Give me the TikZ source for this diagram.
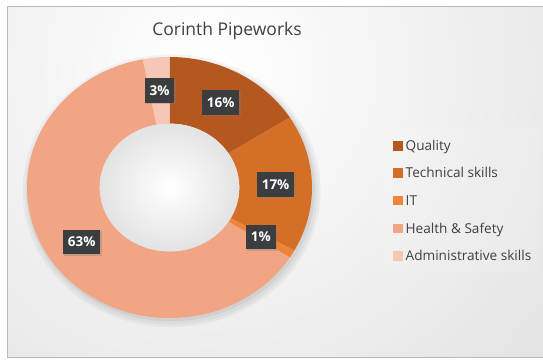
\documentclass[tikz,border=0pt]{standalone}
\usepackage{fontspec}
\setmainfont{Open Sans}
\usetikzlibrary{shadows}
\definecolor{quality}{HTML}{B5581F}
\definecolor{technical}{HTML}{D56E26}
\definecolor{itcol}{HTML}{EE8438}
\definecolor{health}{HTML}{F2A584}
\definecolor{admin}{HTML}{F7C7B6}
\definecolor{bggray}{HTML}{CFCFCF}
\definecolor{labelbox}{HTML}{3B3D3F}
\definecolor{textgray}{HTML}{404040}
\newcommand\keybox[1]{\textcolor{#1}{\rule{9.5pt}{9.5pt}}\hspace{3pt}}
\tikzset{
  pct/.style={fill=labelbox, text=white, font=\bfseries\fontsize{13.5}{14}\selectfont,
    inner xsep=5pt, inner ysep=0pt, minimum height=24.5pt,
    drop shadow={opacity=0.35, shadow xshift=1.5pt, shadow yshift=-1.5pt}},
  keytext/.style={anchor=base west, inner sep=0pt, text=textgray, font=\fontsize{13.6}{15}\selectfont}
}
\begin{document}
\begin{tikzpicture}[x=1pt,y=1pt]
\useasboundingbox (0,0) rectangle (543,360);
\fill[white] (0,0) rectangle (543,360);
\begin{scope}
\clip (7,3) rectangle (543,354);
\shade[inner color=white, outer color=bggray] (210,290) circle (760);
\end{scope}
\draw[gray!55, line width=0.8pt] (7,3) rectangle (560,354);
\node[text=textgray, font=\fontsize{17.5}{20}\selectfont] (title) at (227,329) {Corinth Pipeworks};
\begin{scope}[shift={(169.5,172.5)}, x=142.5pt, y=130.5pt]
\fill[black, opacity=0.04] (0.015,-0.025) circle (1.045);
\fill[black, opacity=0.04] (0.015,-0.025) circle (1.025);
\fill[black, opacity=0.05] (0.01,-0.015) circle (1.01);
\fill[quality] (90:1) arc[start angle=90, end angle=32.4, radius=1] -- (32.4:0.49) arc[start angle=32.4, end angle=90, radius=0.49] -- cycle;
\fill[technical] (32.4:1) arc[start angle=32.4, end angle=-28.8, radius=1] -- (-28.8:0.49) arc[start angle=-28.8, end angle=32.4, radius=0.49] -- cycle;
\fill[itcol] (-28.8:1) arc[start angle=-28.8, end angle=-32.4, radius=1] -- (-32.4:0.49) arc[start angle=-32.4, end angle=-28.8, radius=0.49] -- cycle;
\fill[health] (-32.4:1) arc[start angle=-32.4, end angle=-259.2, radius=1] -- (-259.2:0.49) arc[start angle=-259.2, end angle=-32.4, radius=0.49] -- cycle;
\fill[admin] (-259.2:1) arc[start angle=-259.2, end angle=-270, radius=1] -- (-270:0.49) arc[start angle=-270, end angle=-259.2, radius=0.49] -- cycle;
\shade[inner color=white, outer color=gray!22] (0,0) circle (0.49);
\node[pct] (admpct) at (95.4:0.745) {3\%};
\node[pct] (qualpct) at (61.2:0.745) {16\%};
\node[pct] (techpct) at (1.8:0.745) {17\%};
\node[pct] (itpct) at (-30.6:0.745) {1\%};
\node[pct] (hspct) at (-145.8:0.745) {63\%};
\end{scope}
\fill[white, opacity=0.1] (383,88) rectangle (540,232);
\node[keytext] (kqual) at (393,209.3) {\keybox{quality}Quality};
\node[keytext] (ktech) at (393,182.3) {\keybox{technical}Technical skills};
\node[keytext] (kit) at (393,155) {\keybox{itcol}IT};
\node[keytext] (khs) at (393,126.7) {\keybox{health}Health \& Safety};
\node[keytext] (kadm) at (393,99.3) {\keybox{admin}Administrative skills};
\end{tikzpicture}
\end{document}
